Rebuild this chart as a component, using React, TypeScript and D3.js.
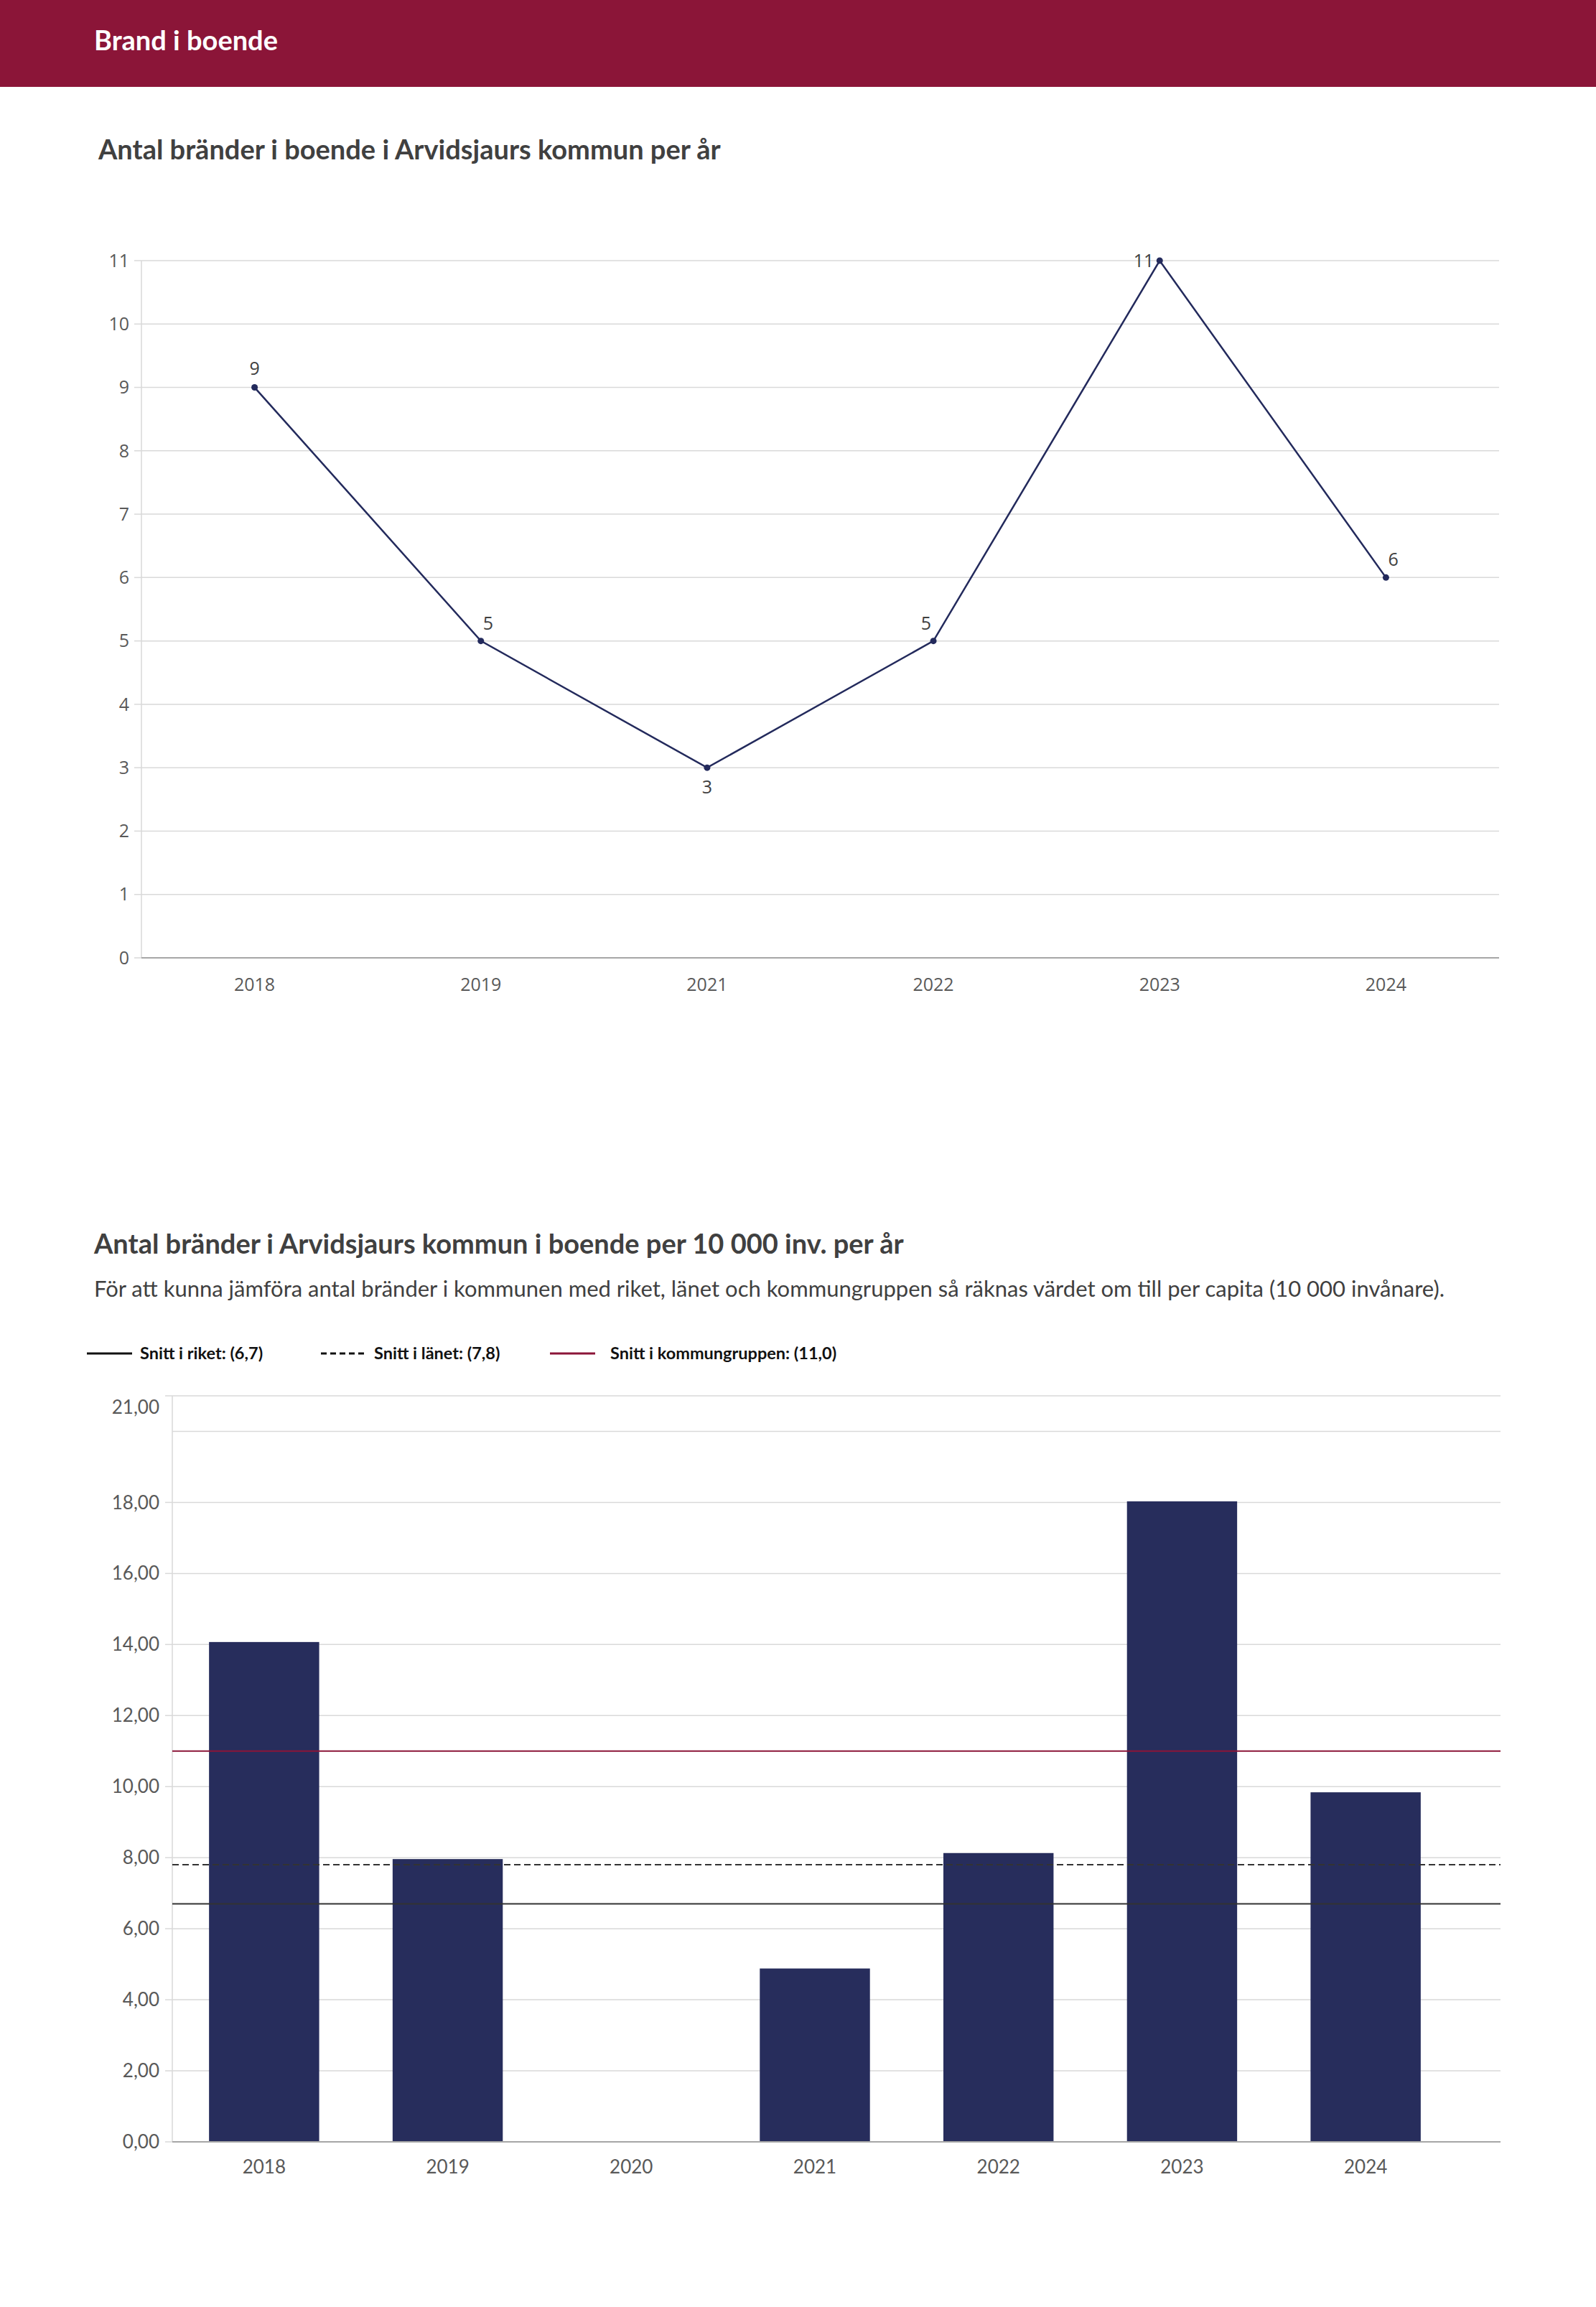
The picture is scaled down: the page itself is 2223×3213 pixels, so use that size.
import React from "react";
import * as d3 from "d3";

// ---------- data ----------
const lineYears = ["2018", "2019", "2021", "2022", "2023", "2024"];
const fireCounts = [9, 5, 3, 5, 11, 6];
const lineYTicks = [0, 1, 2, 3, 4, 5, 6, 7, 8, 9, 10, 11];
const labelPlacement = ["top", "top-right", "bottom", "top-left", "left", "top-right"];

const barYears = ["2018", "2019", "2020", "2021", "2022", "2023", "2024"];
const perCapita = [14.07, 7.96, 0, 4.88, 8.13, 18.03, 9.84];
const barGridValues = [0, 2, 4, 6, 8, 10, 12, 14, 16, 18, 20, 21];
const barTickLabels = [0, 2, 4, 6, 8, 10, 12, 14, 16, 18, 21];

const refNames = ["Snitt i riket", "Snitt i länet", "Snitt i kommungruppen"];
const refValues = [6.7, 7.8, 11.0];
const refStyles = ["solid", "dashed", "maroon"];

const headerText = "Brand i boende";
const title1 = "Antal bränder i boende i Arvidsjaurs kommun per år";
const title2 = "Antal bränder i Arvidsjaurs kommun i boende per 10 000 inv. per år";
const subtitle2 =
  "För att kunna jämföra antal bränder i kommunen med riket, länet och kommungruppen så räknas värdet om till per capita (10 000 invånare).";

// ---------- styles ----------
const W = 2223;
const H = 3213;
const MAROON = "#8b1538";
const NAVY = "#232a5c";
const BAR = "#272d5c";
const GRID = "#d9d9d9";
const AXIS = "#a6a6a6";
const TICK_TXT = "#595959";
const TITLE_TXT = "#404040";
const TITLE_FONT = "Lato, 'Open Sans', sans-serif";
const TICK_FONT = "'Open Sans', 'Noto Sans', sans-serif";

const fmt2 = (v: number) => d3.format(".2f")(v).replace(".", ",");
const fmt1 = (v: number) => d3.format(".1f")(v).replace(".", ",");

export default function App() {
  // ----- chart 1 scales -----
  const c1 = { left: 197, right: 2088, top: 363, bottom: 1334 };
  const x1 = d3.scalePoint<string>().domain(lineYears).range([c1.left, c1.right]).padding(0.5);
  const y1 = d3.scaleLinear().domain([0, 11]).range([c1.bottom, c1.top]);
  const linePath = d3
    .line<number>()
    .x((_, i) => x1(lineYears[i]) as number)
    .y((d) => y1(d))(fireCounts) as string;

  // ----- chart 2 scales -----
  const c2 = { left: 240, right: 2090, bandRight: 2030, top: 1944, bottom: 2983 };
  const x2 = d3.scaleBand<string>().domain(barYears).range([c2.left, c2.bandRight]).paddingInner(0.4).paddingOuter(0.2);
  const y2 = d3.scaleLinear().domain([0, 21]).range([c2.bottom, c2.top]);

  const labelPos = (p: string) => {
    switch (p) {
      case "top":
        return { dx: 0, dy: -18, anchor: "middle" };
      case "top-right":
        return { dx: 3, dy: -16, anchor: "start" };
      case "top-left":
        return { dx: -3, dy: -16, anchor: "end" };
      case "bottom":
        return { dx: 0, dy: 36, anchor: "middle" };
      case "left":
        return { dx: -8, dy: 9, anchor: "end" };
      default:
        return { dx: 0, dy: -18, anchor: "middle" };
    }
  };

  return (
    <div style={{ position: "absolute", left: 0, top: 0, width: W, height: H, background: "#fff" }}>
      <svg width={W} height={H} style={{ display: "block" }}>
        <rect x={0} y={0} width={W} height={H} fill="#fff" />
        {/* header */}
        <rect x={0} y={0} width={W} height={121} fill={MAROON} />
        <text x={131} y={70} fill="#fff" fontFamily={TITLE_FONT} fontWeight={700} fontSize={38}>
          {headerText}
        </text>

        {/* ---------- chart 1 ---------- */}
        <text x={137} y={222} fill={TITLE_TXT} fontFamily={TITLE_FONT} fontWeight={700} fontSize={38}>
          {title1}
        </text>
        <g>
          {lineYTicks.map((t) => (
            <g key={"g1" + t}>
              {t > 0 && (
                <line x1={c1.left} x2={c1.right} y1={y1(t)} y2={y1(t)} stroke={GRID} strokeWidth={1.5} />
              )}
              <line x1={c1.left - 10} x2={c1.left} y1={y1(t)} y2={y1(t)} stroke={GRID} strokeWidth={1.5} />
              <text
                x={c1.left - 17}
                y={y1(t)}
                dy="0.35em"
                textAnchor="end"
                fill={TICK_TXT}
                fontFamily={TICK_FONT}
                fontSize={25}
              >
                {t}
              </text>
            </g>
          ))}
          <line x1={c1.left} x2={c1.left} y1={c1.top} y2={c1.bottom} stroke={GRID} strokeWidth={1.5} />
          <line x1={c1.left} x2={c1.right} y1={c1.bottom} y2={c1.bottom} stroke={AXIS} strokeWidth={2} />
          {lineYears.map((yr) => (
            <text
              key={"xl1" + yr}
              x={x1(yr)}
              y={1371}
              dy="0.35em"
              textAnchor="middle"
              fill={TICK_TXT}
              fontFamily={TICK_FONT}
              fontSize={25}
            >
              {yr}
            </text>
          ))}
          <path d={linePath} fill="none" stroke={NAVY} strokeWidth={2.5} />
          {fireCounts.map((v, i) => {
            const cx = x1(lineYears[i]) as number;
            const cy = y1(v);
            const lp = labelPos(labelPlacement[i]);
            return (
              <g key={"pt" + i}>
                <circle cx={cx} cy={cy} r={4.5} fill={NAVY} />
                <text
                  x={cx + lp.dx}
                  y={cy + lp.dy}
                  textAnchor={lp.anchor as any}
                  fill={TITLE_TXT}
                  fontFamily={TICK_FONT}
                  fontSize={25}
                >
                  {v}
                </text>
              </g>
            );
          })}
        </g>

        {/* ---------- chart 2 ---------- */}
        <text x={131} y={1746} fill={TITLE_TXT} fontFamily={TITLE_FONT} fontWeight={700} fontSize={38}>
          {title2}
        </text>
        <text x={131} y={1806} fill={TITLE_TXT} fontFamily={TITLE_FONT} fontSize={31}>
          {subtitle2}
        </text>

        {/* legend */}
        {(() => {
          const starts = [121, 447, 766];
          return refNames.map((n, i) => {
            const sx = starts[i];
            const st = refStyles[i];
            return (
              <g key={"lg" + i}>
                <line
                  x1={sx}
                  x2={sx + 63}
                  y1={1885}
                  y2={1885}
                  stroke={st === "maroon" ? MAROON : "#111"}
                  strokeWidth={3}
                  strokeDasharray={st === "dashed" ? "8,5" : undefined}
                />
                <text
                  x={sx + 74 + (i === 2 ? 10 : 0)}
                  y={1885}
                  dy="0.35em"
                  fill="#111"
                  fontFamily={TITLE_FONT}
                  fontWeight={700}
                  fontSize={23.5}
                >
                  {`${n}: (${fmt1(refValues[i])})`}
                </text>
              </g>
            );
          });
        })()}

        <g>
          {barGridValues.map((t) => (
            <line
              key={"g2" + t}
              x1={c2.left}
              x2={c2.right}
              y1={y2(t)}
              y2={y2(t)}
              stroke={GRID}
              strokeWidth={1.5}
            />
          ))}
          {barTickLabels.map((t) => (
            <g key={"t2" + t}>
              <line x1={c2.left - 10} x2={c2.left} y1={y2(t)} y2={y2(t)} stroke={GRID} strokeWidth={1.5} />
              <text
                x={c2.left - 18}
                y={y2(t) + (t === 21 ? 16 : 0)}
                dy="0.35em"
                textAnchor="end"
                fill={TICK_TXT}
                fontFamily={TITLE_FONT}
                fontSize={26}
              >
                {fmt2(t)}
              </text>
            </g>
          ))}
          <line x1={c2.left} x2={c2.left} y1={c2.top} y2={c2.bottom} stroke={GRID} strokeWidth={1.5} />
          {perCapita.map((v, i) => (
            <rect
              key={"bar" + i}
              x={x2(barYears[i])}
              y={y2(v)}
              width={x2.bandwidth()}
              height={c2.bottom - y2(v)}
              fill={BAR}
            />
          ))}
          <line x1={c2.left} x2={c2.right} y1={c2.bottom} y2={c2.bottom} stroke={AXIS} strokeWidth={2} />
          {refValues.map((v, i) => (
            <line
              key={"ref" + i}
              x1={c2.left}
              x2={c2.right}
              y1={y2(v)}
              y2={y2(v)}
              stroke={refStyles[i] === "maroon" ? MAROON : "#333"}
              strokeWidth={2}
              strokeDasharray={refStyles[i] === "dashed" ? "9,5" : undefined}
            />
          ))}
          {barYears.map((yr) => (
            <text
              key={"xl2" + yr}
              x={(x2(yr) as number) + x2.bandwidth() / 2}
              y={3018}
              dy="0.35em"
              textAnchor="middle"
              fill={TICK_TXT}
              fontFamily={TITLE_FONT}
              fontSize={26}
            >
              {yr}
            </text>
          ))}
        </g>
      </svg>
    </div>
  );
}
